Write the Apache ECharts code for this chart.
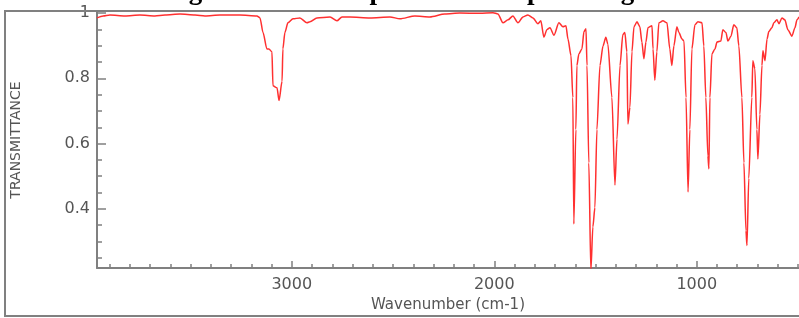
<!DOCTYPE html>
<html>
<head>
<meta charset="utf-8">
<script src="https://cdn.jsdelivr.net/npm/echarts@6/dist/echarts.min.js"></script>
<style>html,body{margin:0;padding:0;background:#fff;}#c{width:799px;height:318px;}</style>
</head>
<body>
<div id="c"></div>
<script>
const titleText = 'Figure 3: FT-IR Spectra of compound 3g';
const xName = 'Wavenumber (cm-1)';
const yName = 'TRANSMITTANCE';
const xMajorTicks = [1000, 2000, 3000];
const xMinorTicks = [500,600,700,800,900,1100,1200,1300,1400,1500,1600,1700,1800,1900,2100,2200,2300,2400,2500,2600,2700,2800,2900,3100,3200,3300,3400,3500,3600,3700,3800,3900];
const yMajorTicks = [0.4, 0.6, 0.8, 1];
const yMinorTicks = [0.25,0.3,0.35,0.45,0.5,0.55,0.65,0.7,0.75,0.85,0.9,0.95];

const wavenumber = [3962,3932,3898,3824,3750,3676,3626,3552,3478,3429,3355,3256,3172,3157,3142,3123,3113,3098,3093,3073,3063,3048,3044,3034,3019,2994,2960,2925,2910,2876,2811,2777,2752,2713,2614,2515,2466,2392,2318,2244,2170,2071,2006,1982,1957,1932,1908,1883,1858,1834,1809,1784,1770,1755,1740,1725,1705,1681,1661,1646,1636,1621,1612,1607,1597,1592,1582,1567,1557,1547,1542,1533,1523,1513,1503,1493,1478,1463,1449,1439,1419,1404,1394,1379,1365,1355,1345,1340,1330,1320,1310,1295,1281,1271,1261,1251,1241,1221,1216,1207,1197,1187,1167,1147,1133,1123,1113,1098,1088,1073,1063,1053,1043,1034,1024,1009,994,974,965,955,945,940,935,925,910,900,881,871,856,846,831,817,802,792,777,767,757,752,743,728,723,713,703,698,688,678,673,663,653,644,629,619,604,594,579,565,550,530,515,505,495];
const transmittance = [0.985,0.991,0.994,0.991,0.994,0.991,0.994,0.997,0.994,0.991,0.994,0.994,0.991,0.985,0.940,0.890,0.890,0.881,0.777,0.771,0.732,0.791,0.890,0.940,0.970,0.982,0.985,0.970,0.973,0.985,0.988,0.976,0.988,0.988,0.985,0.988,0.982,0.991,0.988,0.997,1.000,0.999,1.001,0.997,0.970,0.979,0.991,0.970,0.988,0.994,0.985,0.967,0.976,0.926,0.949,0.955,0.932,0.970,0.958,0.961,0.920,0.869,0.741,0.354,0.643,0.839,0.875,0.890,0.943,0.952,0.839,0.541,0.210,0.345,0.404,0.643,0.839,0.899,0.926,0.905,0.741,0.473,0.613,0.839,0.934,0.940,0.881,0.660,0.711,0.881,0.958,0.973,0.958,0.911,0.860,0.911,0.955,0.961,0.890,0.794,0.881,0.970,0.976,0.970,0.890,0.839,0.899,0.958,0.940,0.920,0.914,0.741,0.452,0.643,0.890,0.964,0.973,0.970,0.899,0.741,0.562,0.523,0.741,0.875,0.890,0.911,0.914,0.949,0.940,0.914,0.929,0.964,0.955,0.899,0.741,0.541,0.333,0.288,0.494,0.741,0.854,0.830,0.643,0.553,0.690,0.839,0.884,0.854,0.920,0.943,0.955,0.970,0.979,0.967,0.985,0.979,0.949,0.929,0.955,0.979,0.988];

const X_MIN = 495, X_MAX = 3962, Y_MIN = 0.219, Y_MAX = 1.003;
const axisGray = '#808080';
const labelGray = '#555';

const chart = echarts.init(document.getElementById('c'), null, {renderer: 'canvas'});
const data = wavenumber.map((w, i) => [w, transmittance[i]]);

chart.setOption({
  animation: false,
  backgroundColor: '#fff',
  title: {
    text: titleText, left: 'center', top: -26,
    textStyle: {fontFamily: 'Liberation Serif', fontWeight: 'bold', fontSize: 27, color: '#000'}
  },
  grid: {left: 97, right: 0, top: 12, bottom: 42, containLabel: false},
  xAxis: [{
    type: 'value', inverse: true, min: X_MIN, max: X_MAX, position: 'bottom',
    name: xName, nameLocation: 'middle', nameGap: 30,
    nameTextStyle: {fontFamily: 'DejaVu Sans', fontSize: 15, color: labelGray},
    axisLine: {show: true, lineStyle: {color: axisGray, width: 2}},
    axisTick: {show: true, inside: true, length: 7, customValues: xMajorTicks, lineStyle: {color: axisGray, width: 1.5}},
    axisLabel: {show: true, customValues: xMajorTicks, formatter: v => String(v), margin: 9, fontFamily: 'DejaVu Sans', fontSize: 16, color: labelGray},
    splitLine: {show: false}
  }, {
    type: 'value', inverse: true, min: X_MIN, max: X_MAX, position: 'bottom', offset: 0,
    axisLine: {show: false},
    axisTick: {show: true, inside: true, length: 4, customValues: xMinorTicks, lineStyle: {color: axisGray, width: 1.5}},
    axisLabel: {show: false},
    splitLine: {show: false}
  }],
  yAxis: [{
    type: 'value', min: Y_MIN, max: Y_MAX, position: 'left',
    name: yName, nameLocation: 'middle', nameGap: 74, nameRotate: 90,
    nameTextStyle: {fontFamily: 'DejaVu Sans', fontSize: 14, color: labelGray},
    axisLine: {show: true, lineStyle: {color: axisGray, width: 2}},
    axisTick: {show: true, inside: true, length: 9, customValues: yMajorTicks, lineStyle: {color: axisGray, width: 1.5}},
    axisLabel: {show: true, customValues: yMajorTicks, formatter: v => String(v), margin: 7, fontFamily: 'DejaVu Sans', fontSize: 16, color: labelGray},
    splitLine: {show: false}
  }, {
    type: 'value', min: Y_MIN, max: Y_MAX, position: 'left', offset: 0,
    axisLine: {show: false},
    axisTick: {show: true, inside: true, length: 5, customValues: yMinorTicks, lineStyle: {color: axisGray, width: 1.5}},
    axisLabel: {show: false},
    splitLine: {show: false}
  }],
  series: [{
    type: 'line', data: data, xAxisIndex: 0, yAxisIndex: 0,
    showSymbol: false, smooth: 0.25, smoothMonotone: 'x', clip: true,
    lineStyle: {color: '#ff3030', width: 1.5}
  }],
  graphic: [{
    type: 'rect', z: 100, silent: true,
    shape: {x: 5, y: 11, width: 820, height: 305},
    style: {fill: 'none', stroke: axisGray, lineWidth: 2}
  }]
});
</script>
</body>
</html>
